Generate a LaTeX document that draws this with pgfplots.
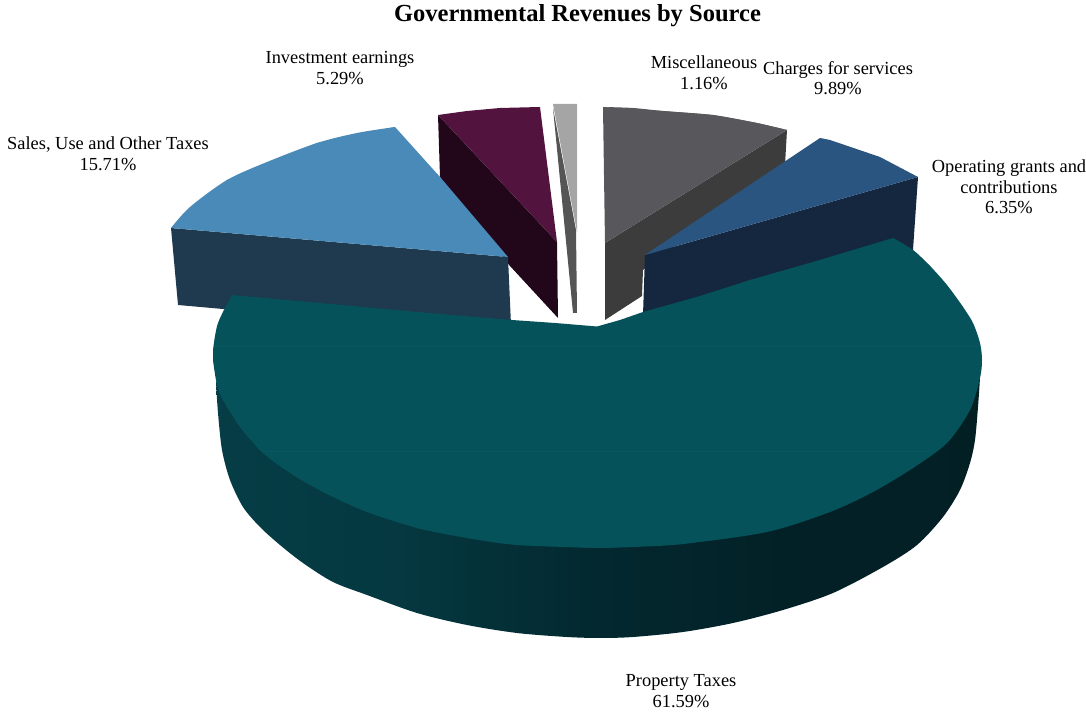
\documentclass[border=0pt]{standalone}
\usepackage{pgfplots}
\pgfplotsset{compat=1.18}
\usepackage{fontspec}
\setmainfont{Liberation Serif}

\definecolor{propTop}{HTML}{05525A}
\definecolor{propSeam}{HTML}{08565E}
\definecolor{salesTop}{HTML}{4A8AB8}
\definecolor{salesWall}{HTML}{1F3A4F}
\definecolor{invTop}{HTML}{52143F}
\definecolor{invWall}{HTML}{22071B}
\definecolor{miscTop}{HTML}{A5A5A5}
\definecolor{miscWall}{HTML}{555555}
\definecolor{chgTop}{HTML}{58585C}
\definecolor{chgWall}{HTML}{3C3C3C}
\definecolor{grantTop}{HTML}{2A5580}
\definecolor{grantWall}{HTML}{14273F}
\definecolor{wallA}{HTML}{074850}
\definecolor{wallB}{HTML}{064049}
\definecolor{wallC}{HTML}{053840}
\definecolor{wallD}{HTML}{03282F}
\definecolor{wallE}{HTML}{022025}
\definecolor{wallF}{HTML}{021F23}

% Rim of the large slice, dark towards the right
\pgfdeclarehorizontalshading{propwall}{100bp}{
  color(0bp)=(wallA);
  color(18bp)=(wallB);
  color(37bp)=(wallC);
  color(50bp)=(wallD);
  color(64bp)=(wallE);
  color(100bp)=(wallF)}

\tikzset{lab/.style={font=\fontsize{13.8}{15.4}\selectfont, align=center, inner sep=0pt, text=black}}

\begin{document}
\begin{tikzpicture}
\useasboundingbox (0,0) rectangle (814.5pt,534pt);
\begin{axis}[
  scale only axis, width=814.5pt, height=534pt,
  xmin=0, xmax=1086, ymin=0, ymax=712, y dir=reverse,
  hide axis, clip=false, no markers,
  every axis plot/.append style={draw=none, line width=0pt},
]
% Investment earnings
\addplot[fill=invWall] coordinates {(438,115)(557,242)(558,318)(510,266)(440,177)} -- cycle;
\addplot[fill=invTop] coordinates {(438,115)(467,111)(500,108)(540,107)(557,242)} -- cycle;
% Miscellaneous
\addplot[fill=miscWall] coordinates {(553,108)(576,230)(577,313)(573,313)} -- cycle;
\addplot[fill=miscTop] coordinates {(553,104)(577,104)(577,232)} -- cycle;
% Charges for services
\addplot[fill=chgWall] coordinates {(787,130)(785,165)(643,270)(642,296)(605,320)(605,243)} -- cycle;
\addplot[fill=chgTop, smooth] coordinates {(603,107)(633,108)(663,111)(713,115)(757,123)(787,130)} -- cycle;
\addplot[fill=chgTop] coordinates {(603,107)(663,111)(713,115)(757,123)(787,130)(605,243)} -- cycle;
% Operating grants and contributions
\addplot[fill=grantWall] coordinates {(645,255)(918,177)(913,250)(643,315)} -- cycle;
\addplot[fill=grantTop] coordinates {(645,255)(820,138)(830,140)(880,157)(918,177)} -- cycle;
% Sales, use and other taxes
\addplot[fill=salesWall] coordinates {(171,228)(508,257)(511,325)(223,309)(178,305)} -- cycle;
\addplot[fill=salesTop, smooth] coordinates {(171,228)(190,207)(227,180)(267,162)(317,143)(357,133)(395,127)} -- cycle;
\addplot[fill=salesTop] coordinates {(171,228)(227,180)(317,143)(395,127)(440,177)(508,257)} -- cycle;
% Property taxes: rim, then top face (two arcs over an inner polygon)
\addplot[shade, shading=propwall, smooth] coordinates {
  (216,382)(218,413)(222,450)(230,480)(243,507)(260,527)(280,545)(303,563)(333,582)(367,595)
  (417,613)(467,625)(517,633)(567,637)(600,638)(633,637)(683,632)(733,623)(783,610)(833,593)
  (883,567)(917,545)(943,517)(960,490)(970,463)(975,440)(978,407)(980,378)} -- cycle;
\addplot[fill=propTop, smooth] coordinates {
  (893,238)(913,250)(930,266)(947,285)(963,307)(973,323)(980,343)(982,360)
  (980,378)(970,410)(947,443)(913,468)(873,492)(830,512)(767,532)(683,544)(633,547)(600,548)} -- cycle;
\addplot[fill=propTop, smooth] coordinates {
  (600,548)(517,545)(467,538)(417,528)(367,512)(327,494)(293,475)(263,453)
  (240,427)(223,400)(217,385)(213,360)(213,350)(218,323)(232,295)} -- cycle;
\addplot[fill=propTop] coordinates {
  (893,238)(930,266)(963,307)(982,360)(970,410)(913,468)(830,512)(683,544)(600,548)
  (517,545)(417,528)(327,494)(263,453)(223,400)(213,355)(232,295)
  (320,303)(417,312)(512,320)(555,323)(597,326.5)(620,320)(643,312)(700,296)(750,280)(813,262)} -- cycle;
% Faint seams across the top face
\addplot[draw=propSeam, line width=0.4pt] coordinates {(215,346.5)(980,346.5)};
\addplot[draw=propSeam, line width=0.4pt] coordinates {(263,451)(935,451)};

\node[font=\bfseries\fontsize{18.4}{20}\selectfont, inner sep=0pt] at (axis cs:577.5,16) {Governmental Revenues by Source};
\node[lab] at (axis cs:340,68) {Investment earnings\\5.29\%};
\node[lab] at (axis cs:704,73) {Miscellaneous\\1.16\%};
\node[lab] at (axis cs:838,78) {Charges for services\\9.89\%};
\node[lab] at (axis cs:1009,187) {Operating grants and\\contributions\\6.35\%};
\node[lab] at (axis cs:108,154) {Sales, Use and Other Taxes\\15.71\%};
\node[lab] at (axis cs:681,691) {Property Taxes\\61.59\%};
\end{axis}
\end{tikzpicture}
\end{document}
